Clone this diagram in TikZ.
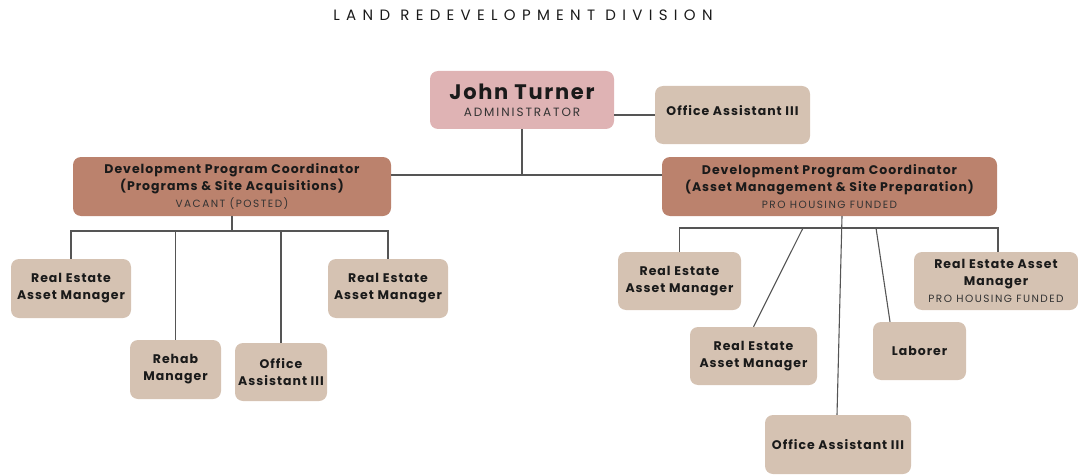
\documentclass[tikz,border=0pt]{standalone}
\usepackage{fontspec}
\setmainfont{Poppins}
\newfontfamily\titlefont{Poppins}[LetterSpace=42]
\newfontfamily\boxfont{Poppins}[LetterSpace=8]
\newfontfamily\subfont{Poppins}[LetterSpace=14]
\newfontfamily\adminfont{Poppins}[LetterSpace=16]
\definecolor{pinkfill}{HTML}{DFB3B4}
\definecolor{tanfill}{HTML}{D5C2B2}
\definecolor{brownfill}{HTML}{BB826D}
\definecolor{linecol}{HTML}{555555}
\definecolor{txt}{HTML}{1A1A1A}
\definecolor{subtxt}{HTML}{333333}
\tikzset{
  x=1pt,y=-1pt,
  box/.style={rounded corners=8pt, draw=none, align=center, inner sep=2pt,
    text=txt, font=\boxfont\bfseries\fontsize{12.5}{17}\selectfont},
  tanbox/.style={box, fill=tanfill},
  brownbox/.style={box, fill=brownfill},
  link/.style={draw=linecol, line width=1.1pt},
}
\newcommand{\subline}[1]{{\subfont\mdseries\fontsize{10.5}{13}\selectfont\color{subtxt}#1}}
\begin{document}
\begin{tikzpicture}
\useasboundingbox (0,0) rectangle (1078,476);
\node[font=\titlefont\fontsize{15}{17}\selectfont, text=txt] (title) at (523,15) {LAND REDEVELOPMENT DIVISION};
\node[box, fill=pinkfill, minimum width=184pt, minimum height=58pt] (jt) at (522,100)
  {{\fontsize{21}{24}\selectfont John Turner}\\[0pt]{\adminfont\mdseries\fontsize{12}{14}\selectfont\color{subtxt}ADMINISTRATOR}};
\node[tanbox, minimum width=155pt, minimum height=58pt] (oa0) at (732.5,115) {\raisebox{10pt}{Office Assistant III}};
\node[brownbox, minimum width=318pt, minimum height=59pt] (dpcL) at (232,186.5)
  {Development Program Coordinator\\(Programs \& Site Acquisitions)\\\subline{VACANT (POSTED)}};
\node[brownbox, minimum width=335pt, minimum height=59pt] (dpcR) at (829.5,186.5)
  {Development Program Coordinator\\(Asset Management \& Site Preparation)\\\subline{PRO HOUSING FUNDED}};
\node[tanbox, minimum width=120pt, minimum height=59pt] (reL1) at (71,288.5) {Real Estate\\Asset Manager};
\node[tanbox, minimum width=91pt, minimum height=59pt] (rehab) at (175.5,369.5) {Rehab\\Manager};
\node[tanbox, minimum width=92pt, minimum height=58pt] (oaL) at (281,372) {Office\\Assistant III};
\node[tanbox, minimum width=120pt, minimum height=59pt] (reL2) at (388,288.5) {Real Estate\\Asset Manager};
\node[tanbox, minimum width=123pt, minimum height=58pt] (reR1) at (679.5,281) {Real Estate\\Asset Manager};
\node[tanbox, minimum width=127pt, minimum height=58pt] (reR2) at (753.5,356) {Real Estate\\Asset Manager};
\node[tanbox, minimum width=146pt, minimum height=59pt] (oaR) at (838,444.5) {Office Assistant III};
\node[tanbox, minimum width=93pt, minimum height=58pt] (lab) at (919.5,351) {Laborer};
\node[tanbox, minimum width=164pt, minimum height=58pt] (reR3) at (996,281) {Real Estate Asset\\Manager\\\subline{PRO HOUSING FUNDED}};
% connectors
\coordinate (hub) at (522,175);
\coordinate (barL) at (232,231);
\coordinate (barR) at (842,228);
\coordinate (s1) at (803,228);
\coordinate (s2) at (876,228);
\draw[link] (oa0.west) -- (oa0.west -| jt.east);
\draw[link] (jt.south) -- (hub);
\draw[link] (dpcL.east |- hub) -- (dpcR.west |- hub);
\draw[link] (dpcL.south) -- (barL);
\draw[link] (reL1.north) -- (reL1.north |- barL) -- (reL2.north |- barL) -- (reL2.north);
\draw[link] (rehab.north) -- (rehab.north |- barL);
\draw[link] (oaL.north) -- (oaL.north |- barL);
\draw[link] ([xshift=12.5pt]dpcR.south) -- ([xshift=-1pt]oaR.north);
\draw[link] (reR1.north) -- (reR1.north |- barR) -- ([xshift=2pt]reR3.north |- barR) -- ([xshift=2pt]reR3.north);
\draw[link] (s1) -- (reR2.north);
\draw[link] (s2) -- ([xshift=-29.5pt]lab.north);
\end{tikzpicture}
\end{document}
